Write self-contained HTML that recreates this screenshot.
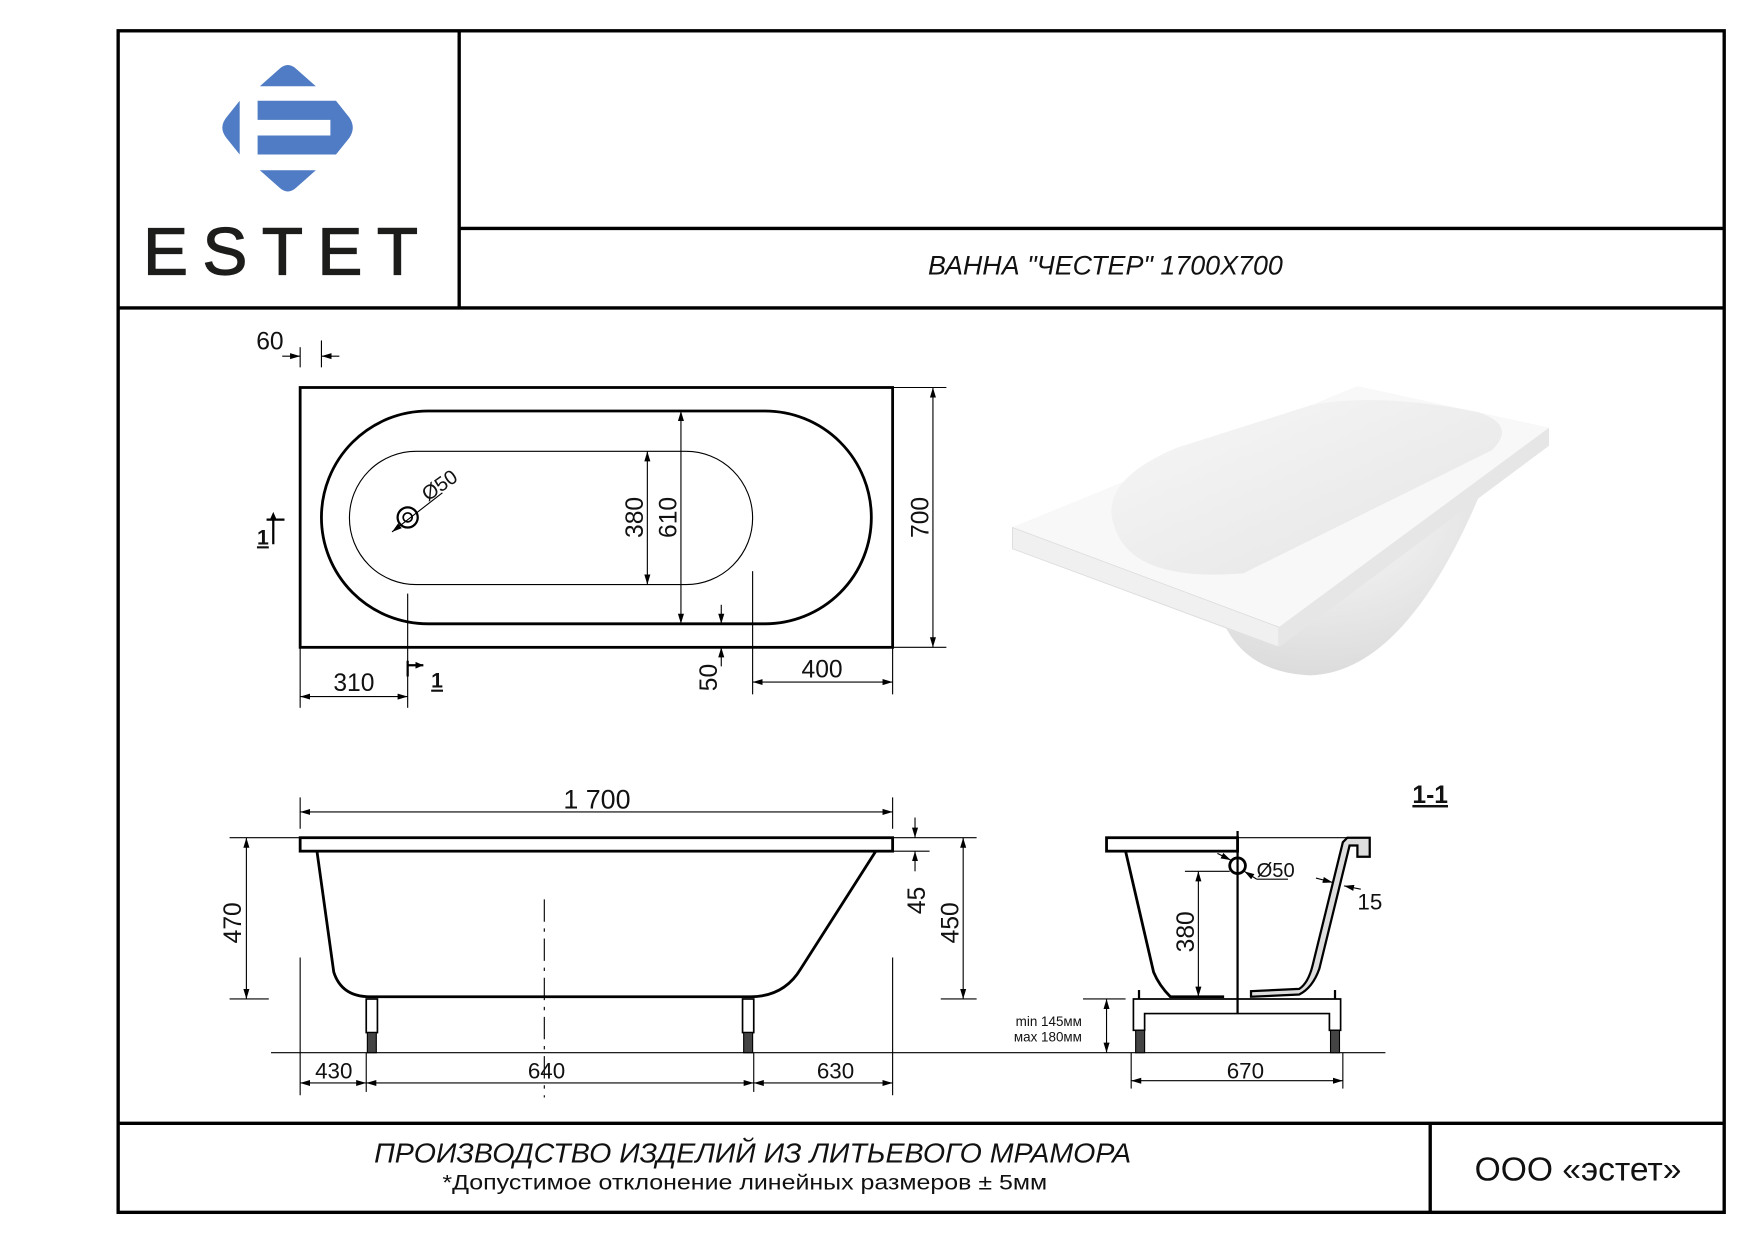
<!DOCTYPE html>
<html><head><meta charset="utf-8"><style>
html,body{margin:0;padding:0;background:#fff}
svg{display:block}
text{font-family:"Liberation Sans","DejaVu Sans",sans-serif;fill:#111}
</style></head><body>
<svg width="1755" height="1240" viewBox="0 0 1567 1107.2" preserveAspectRatio="none" xmlns="http://www.w3.org/2000/svg">
<defs>
<marker id="a" viewBox="0 0 10 10" refX="10" refY="5" markerWidth="9" markerHeight="9" orient="auto-start-reverse" markerUnits="userSpaceOnUse"><path d="M0,2 L10,5 L0,8 z" fill="#000"/></marker>
<linearGradient id="g1" x1="0" y1="0" x2="1" y2="1"><stop offset="0" stop-color="#f7f7f7"/><stop offset="1" stop-color="#e4e4e4"/></linearGradient>
<radialGradient id="g2" cx="0.4" cy="0.2" r="0.9"><stop offset="0" stop-color="#fafafa"/><stop offset="1" stop-color="#d8d8d8"/></radialGradient>
</defs>
<g stroke="#000" stroke-width="3" fill="none">
<rect x="105.5" y="27.5" width="1434" height="1055"/>
<line x1="410" y1="27" x2="410" y2="275"/>
<line x1="410" y1="204" x2="1540" y2="204"/>
<line x1="105" y1="275" x2="1540" y2="275"/>
<line x1="105" y1="1003" x2="1540" y2="1003"/>
<line x1="1277" y1="1003" x2="1277" y2="1083"/>
</g>
<g fill="#4f7cc4">
<path d="M232,77 L250,61 Q257,55 264,61 L282,77 z"/>
<path d="M232,152 L282,152 L264,168 Q257,174 250,168 z"/>
<path d="M214,90 L214,138 L202,123 Q195,114 202,105 z"/>
<path d="M230,90 L300,90 L312,105 Q318,114 312,123 L300,138 L230,138 z M230,107 L230,121 L295,121 L295,107 z" fill-rule="evenodd"/>
</g>
<text x="257" y="245" font-size="60" text-anchor="middle" letter-spacing="13" style="fill:#1d1d1b;stroke:#1d1d1b;stroke-width:1.2">ESTET</text>
<text x="987" y="245" font-size="24" font-style="italic" text-anchor="middle">ВАННА "ЧЕСТЕР" 1700X700</text>

<g stroke="#000" fill="none">
<rect x="268" y="346" width="529" height="232" stroke-width="2.5"/>
<rect x="287" y="367" width="491" height="190" rx="95" stroke-width="2.5"/>
<rect x="312" y="403" width="360" height="119" rx="59.5" stroke-width="1"/>
<circle cx="364" cy="462" r="9" stroke-width="2"/>
<circle cx="364" cy="462" r="4" stroke-width="1.5"/>
<line x1="350" y1="475" x2="395" y2="440" stroke-width="1" marker-start="url(#a)"/>
<g stroke-width="1">
<line x1="608" y1="367" x2="608" y2="557" marker-start="url(#a)" marker-end="url(#a)"/>
<line x1="578" y1="403" x2="578" y2="522" marker-start="url(#a)" marker-end="url(#a)"/>
<line x1="797" y1="346" x2="845" y2="346"/><line x1="797" y1="578" x2="845" y2="578"/>
<line x1="833" y1="346" x2="833" y2="578" marker-start="url(#a)" marker-end="url(#a)"/>
<line x1="268" y1="578" x2="268" y2="632"/><line x1="364" y1="530" x2="364" y2="632"/>
<line x1="268" y1="622" x2="364" y2="622" marker-start="url(#a)" marker-end="url(#a)"/>
<line x1="672" y1="510" x2="672" y2="620"/><line x1="797" y1="578" x2="797" y2="620"/>
<line x1="672" y1="609" x2="797" y2="609" marker-start="url(#a)" marker-end="url(#a)"/>
<line x1="644" y1="540" x2="644" y2="557" marker-end="url(#a)"/>
<line x1="644" y1="595" x2="644" y2="578" marker-end="url(#a)"/>
<line x1="268" y1="310" x2="268" y2="328"/><line x1="287" y1="304" x2="287" y2="328"/>
<line x1="252" y1="318" x2="268" y2="318" marker-end="url(#a)"/>
<line x1="303" y1="318" x2="287" y2="318" marker-end="url(#a)"/>
</g>
<path d="M364,590 L364,604 M364,594 L378,594" stroke-width="2"/>
<path d="M244,462 L244,486 M238,464 L254,464" stroke-width="2"/>
</g>
<path d="M378,594 l-7,-3 v6z M247,464 l-3,-7 l-3,7z" fill="#000"/>
<text x="385" y="614" font-size="19" text-decoration="underline" font-weight="bold">1</text>
<text x="240" y="486" font-size="19" text-anchor="end" text-decoration="underline" font-weight="bold">1</text>
<text x="241" y="312" font-size="22" text-anchor="middle">60</text>
<text x="316" y="617" font-size="22" text-anchor="middle">310</text>
<text x="734" y="605" font-size="22" text-anchor="middle">400</text>
<text transform="translate(640,605) rotate(-90)" font-size="22" text-anchor="middle">50</text>
<text transform="translate(574,462) rotate(-90)" font-size="22" text-anchor="middle">380</text>
<text transform="translate(604,462) rotate(-90)" font-size="22" text-anchor="middle">610</text>
<text transform="translate(829,462) rotate(-90)" font-size="22" text-anchor="middle">700</text>
<text transform="translate(382,448) rotate(-35)" font-size="18">Ø50</text>

<!-- photo -->
<path d="M1080,500 Q1085,600 1170,603 Q1260,600 1330,420 L1200,470 z" fill="url(#g2)"/>
<polygon points="904,471 1212,345 1383,382 1383,398 1140,578 904,490" fill="#e9e9e9"/>
<polygon points="904,471 1212,345 1383,382 1142,560" fill="#f8f8f8"/>
<path d="M995,470 Q980,430 1050,400 L1170,362 Q1230,350 1320,368 Q1355,380 1332,402 L1110,512 Q1010,520 995,470z" fill="url(#g1)"/>
<polygon points="904,471 1142,560 1142,578 904,490" fill="#f0f0f0" stroke="#ddd" stroke-width="0.8"/>
<polygon points="1142,560 1383,382 1383,398 1142,578" fill="#e6e6e6"/>

<g stroke="#000" fill="none">
<rect x="268" y="748" width="529" height="12" stroke-width="2.5"/>
<path d="M283,760 L298,868 Q305,890 330,890 L670,890 Q700,890 715,865 L782,760" stroke-width="2.5"/>
<g stroke-width="1.5">
<rect x="327" y="892" width="10" height="30"/><rect x="663" y="892" width="10" height="30"/>
</g>
<rect x="328" y="922" width="8" height="18" fill="#444" stroke-width="1"/>
<rect x="664" y="922" width="8" height="18" fill="#444" stroke-width="1"/>
<g stroke-width="1">
<line x1="242" y1="940" x2="1237" y2="940"/>
<line x1="486" y1="803" x2="486" y2="980" stroke-dasharray="20,6,3,6"/>
<line x1="268" y1="725" x2="797" y2="725" marker-start="url(#a)" marker-end="url(#a)"/>
<line x1="268" y1="712" x2="268" y2="740"/><line x1="797" y1="712" x2="797" y2="740"/>
<line x1="205" y1="748" x2="268" y2="748"/><line x1="205" y1="892" x2="240" y2="892"/>
<line x1="220" y1="748" x2="220" y2="892" marker-start="url(#a)" marker-end="url(#a)"/>
<line x1="797" y1="748" x2="872" y2="748"/><line x1="797" y1="760" x2="830" y2="760"/>
<line x1="840" y1="892" x2="872" y2="892"/>
<line x1="860" y1="748" x2="860" y2="892" marker-start="url(#a)" marker-end="url(#a)"/>
<line x1="817" y1="730" x2="817" y2="748" marker-end="url(#a)"/>
<line x1="817" y1="778" x2="817" y2="760" marker-end="url(#a)"/>
<line x1="268" y1="855" x2="268" y2="978"/><line x1="797" y1="855" x2="797" y2="978"/>
<line x1="327" y1="940" x2="327" y2="975"/><line x1="673" y1="940" x2="673" y2="975"/>
<line x1="268" y1="967" x2="327" y2="967" marker-start="url(#a)" marker-end="url(#a)"/>
<line x1="327" y1="967" x2="673" y2="967" marker-start="url(#a)" marker-end="url(#a)"/>
<line x1="673" y1="967" x2="797" y2="967" marker-start="url(#a)" marker-end="url(#a)"/>
</g>
</g>
<text x="533" y="722" font-size="24" text-anchor="middle">1 700</text>
<text transform="translate(215,824) rotate(-90)" font-size="22" text-anchor="middle">470</text>
<text transform="translate(826,804) rotate(-90)" font-size="22" text-anchor="middle">45</text>
<text transform="translate(856,824) rotate(-90)" font-size="22" text-anchor="middle">450</text>
<text x="298" y="963" font-size="20" text-anchor="middle">430</text>
<text x="488" y="963" font-size="20" text-anchor="middle">640</text>
<text x="746" y="963" font-size="20" text-anchor="middle">630</text>

<text x="1277" y="717" font-size="22" font-weight="bold" text-anchor="middle" text-decoration="underline">1-1</text>
<g stroke="#000" fill="none">
<rect x="988" y="748" width="117" height="12" stroke-width="2.5"/>
<path d="M1005,760 L1030,868 Q1035,880 1045,890 L1093,890" stroke-width="2.5"/>
<line x1="1105" y1="742" x2="1105" y2="905" stroke-width="2"/>
<path d="M1203,748 L1223,748 L1223,765 L1212,765 L1212,755 L1205,755 L1178,865 Q1172,882 1160,888 L1117,890 L1117,885 L1160,883 Q1168,878 1172,862 L1199,752 z" stroke-width="2" fill="#ddd"/>
<line x1="1105" y1="748" x2="1203" y2="748" stroke-width="1"/>
<circle cx="1105" cy="773" r="7" stroke-width="2.5"/>
<g stroke-width="1">
<line x1="1087" y1="762" x2="1099" y2="768" marker-end="url(#a)"/>
<line x1="1122" y1="785" x2="1111" y2="778" marker-end="url(#a)"/>
<line x1="1122" y1="785" x2="1150" y2="785"/>
<line x1="1058" y1="778" x2="1098" y2="778"/>
<line x1="1070" y1="778" x2="1070" y2="890" marker-start="url(#a)" marker-end="url(#a)"/>
<line x1="1175" y1="784" x2="1190" y2="788" marker-end="url(#a)"/>
<line x1="1215" y1="794" x2="1200" y2="791" marker-end="url(#a)"/>
<line x1="967" y1="892" x2="1005" y2="892"/>
<line x1="988" y1="892" x2="988" y2="940" marker-start="url(#a)" marker-end="url(#a)"/>
<line x1="1010" y1="940" x2="1010" y2="972"/><line x1="1199" y1="940" x2="1199" y2="972"/>
<line x1="1010" y1="965" x2="1199" y2="965" marker-start="url(#a)" marker-end="url(#a)"/>
</g>
<path d="M1012,892 L1197,892 L1197,920 L1187,920 L1187,905 L1022,905 L1022,920 L1012,920 z" stroke-width="1.5"/>
<rect x="1014" y="920" width="8" height="20" fill="#444" stroke-width="1"/>
<rect x="1188" y="920" width="8" height="20" fill="#444" stroke-width="1"/>
<line x1="1017" y1="884" x2="1017" y2="892" stroke-width="2"/><line x1="1192" y1="884" x2="1192" y2="892" stroke-width="2"/>
</g>
<text x="1122" y="783" font-size="18">Ø50</text>
<text x="1212" y="812" font-size="20">15</text>
<text transform="translate(1066,832) rotate(-90)" font-size="22" text-anchor="middle">380</text>
<text x="966" y="916" font-size="12" text-anchor="end">min 145мм</text>
<text x="966" y="930" font-size="12" text-anchor="end">мax 180мм</text>
<text x="1112" y="963" font-size="20" text-anchor="middle">670</text>

<text x="672" y="1038" font-size="25" font-style="italic" text-anchor="middle" textLength="676" lengthAdjust="spacingAndGlyphs">ПРОИЗВОДСТВО ИЗДЕЛИЙ ИЗ ЛИТЬЕВОГО МРАМОРА</text>
<text x="665" y="1062" font-size="19" text-anchor="middle" textLength="540" lengthAdjust="spacingAndGlyphs">*Допустимое отклонение линейных размеров  ± 5мм</text>
<text x="1409" y="1054" font-size="30" text-anchor="middle">ООО «эстет»</text>
</svg>
</body></html>
